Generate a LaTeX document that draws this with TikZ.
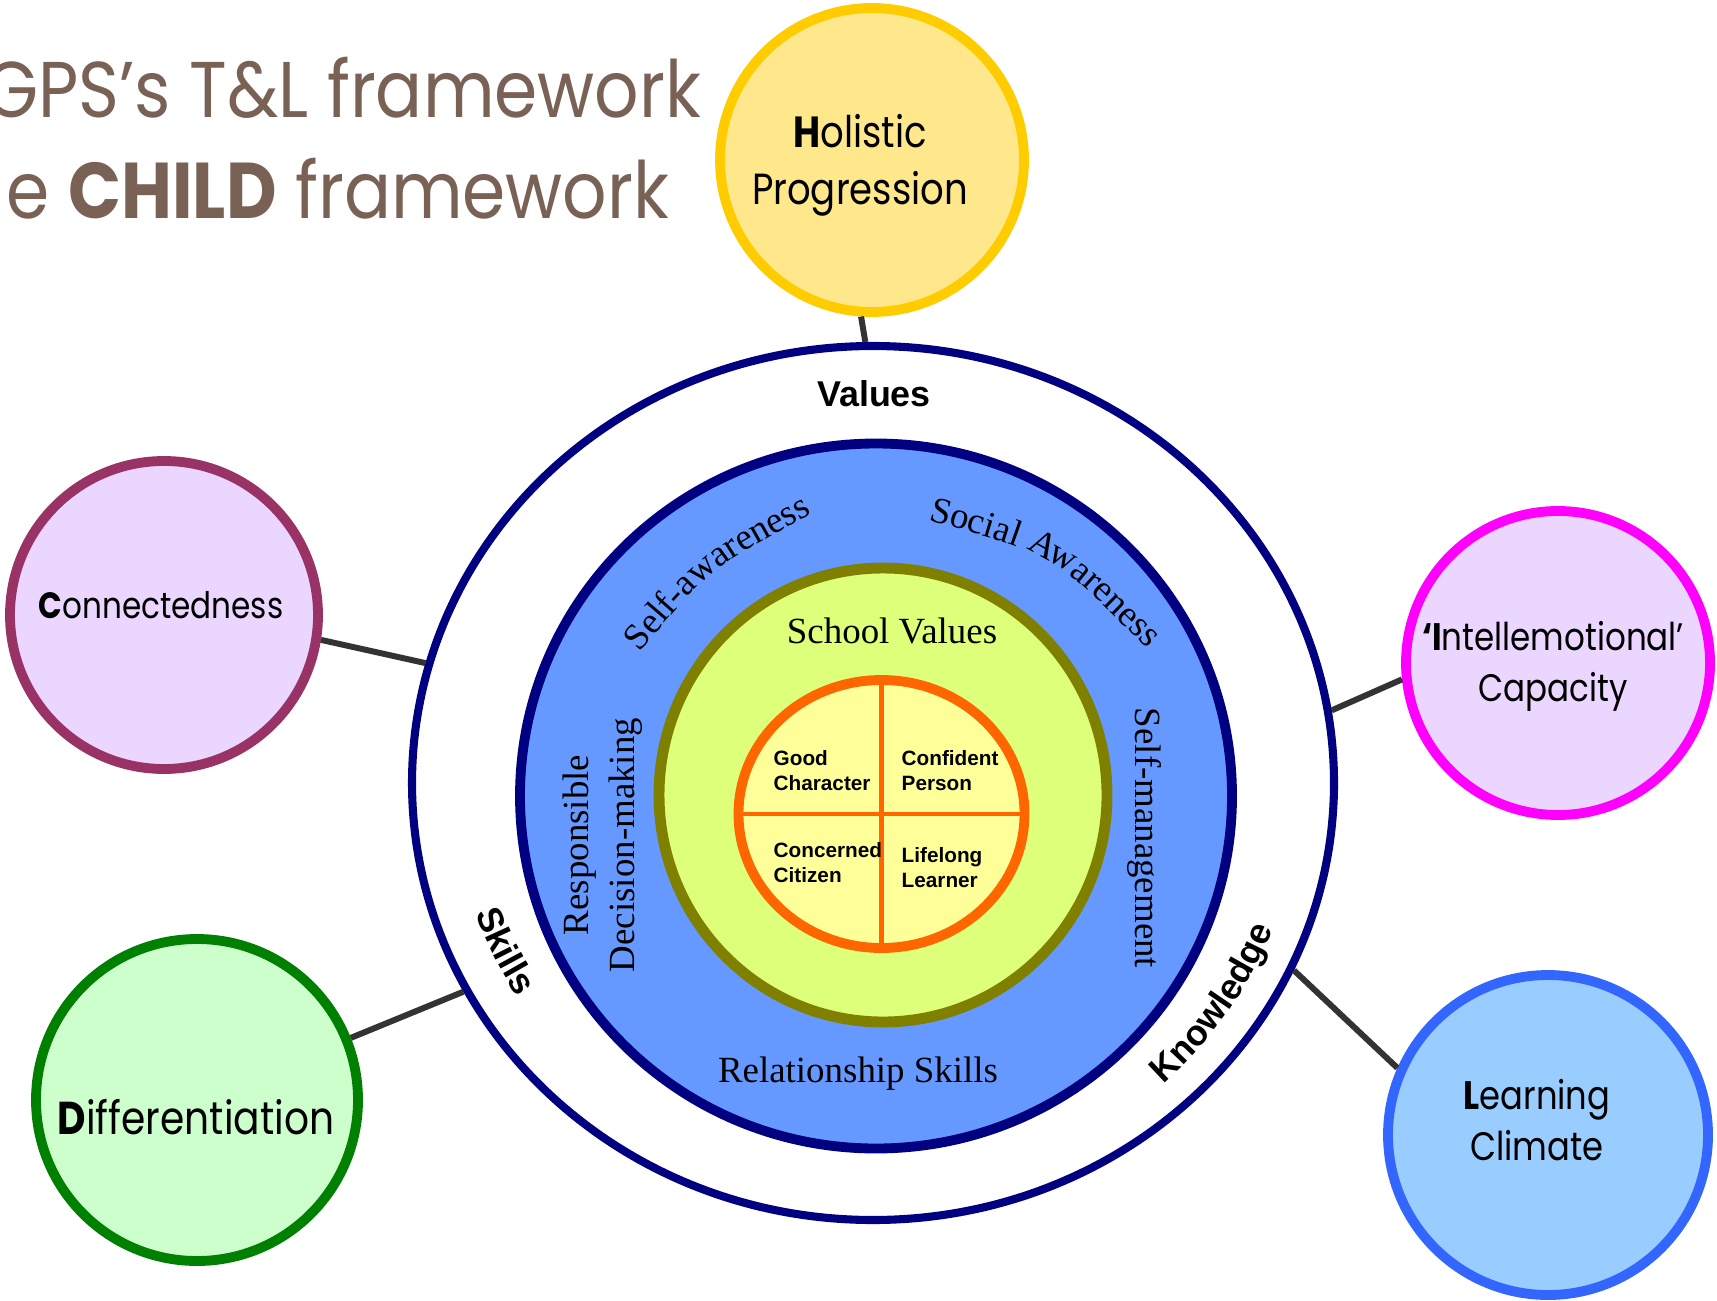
\documentclass[tikz,border=0pt]{standalone}
\usepackage{fontspec}
\setmainfont{Liberation Serif}
\newfontfamily\geofont{Poppins}[FakeStretch=0.85]
\newfontfamily\titlefont{Poppins}[FakeStretch=0.88]
\newfontfamily\arialfont{Liberation Sans}
\usetikzlibrary{shapes.geometric,decorations.text}

\definecolor{navyring}{HTML}{000080}
\definecolor{selblue}{HTML}{6699FF}
\definecolor{schoolgreen}{HTML}{DDFF7A}
\definecolor{schoolline}{HTML}{808000}
\definecolor{coreorange}{HTML}{FF6600}
\definecolor{corefill}{HTML}{FFFF99}
\definecolor{holfill}{HTML}{FFE88C}
\definecolor{holline}{HTML}{FFCC00}
\definecolor{lilac}{HTML}{EBD6FF}
\definecolor{connline}{HTML}{993366}
\definecolor{intelline}{HTML}{FF00FF}
\definecolor{difffill}{HTML}{CCFFCC}
\definecolor{diffline}{HTML}{008000}
\definecolor{learnfill}{HTML}{99CCFF}
\definecolor{learnline}{HTML}{3366FF}
\definecolor{titlebrown}{RGB}{121,97,86}
\definecolor{linkgrey}{HTML}{333333}

\newcommand\selfont{\fontsize{10.5}{13}\selectfont}
\newcommand\ringfont{\arialfont\bfseries\fontsize{10.2}{12}\selectfont}

\begin{document}
\begin{tikzpicture}[x=0.1mm,y=0.1mm,
  bubble/.style={circle,line width=2.8pt,inner sep=0pt},
  bubbletext/.style 2 args={align=center,inner sep=0pt,font=\geofont\fontsize{#1}{#2}\selectfont},
  ringshape/.style={ellipse,inner sep=0pt},
  linkline/.style={linkgrey,line width=1.7pt},
  seltext/.style={font=\selfont,inner sep=0pt},
  titletext/.style={anchor=base east,inner sep=0pt,text=titlebrown,font=\titlefont\fontsize{22.5}{27}\selectfont},
  coretext/.style={font=\arialfont\bfseries\fontsize{5.9}{7.1}\selectfont,align=left,anchor=north west,inner sep=0pt}]

\useasboundingbox (0,0) rectangle (1717,1300);

\node[titletext] (title1) at (702,1182) {GPS’s T\&L framework};
\node[titletext] (title2) at (670,1081) {e \textbf{CHILD} framework};

% rings
\node[ringshape,draw=navyring,fill=white,line width=2.3pt,minimum width=92.2mm,minimum height=87.4mm] (ring) at (873,517) {};
\node[ringshape,draw=navyring,fill=selblue,line width=2.8pt,minimum width=71.2mm,minimum height=70.5mm] (sel) at (876,504) {};
\node[ringshape,draw=schoolline,fill=schoolgreen,line width=3.1pt,minimum width=44.8mm,minimum height=45.4mm] (school) at (883,505) {};
\node[ringshape,draw=coreorange,fill=corefill,line width=2.8pt,minimum width=28.6mm,minimum height=26.8mm] (core) at (881.5,486) {};
\draw[coreorange,line width=1.4pt] (core.west) -- (core.east) (core.north) -- (core.south);

\node[coretext] (good) at (773,550) {Good\\Character};
\node[coretext] (confident) at (901,550) {Confident\\Person};
\node[coretext] (concerned) at (773,458) {Concerned\\Citizen};
\node[coretext] (lifelong) at (901,453) {Lifelong\\Learner};

\node[seltext,anchor=base] (schoolvalues) at (892,657) {School Values};
\node[seltext,anchor=base] (relationship) at (858,218) {Relationship Skills};
\node[seltext,rotate=-90] (selfman) at (1144,462) {Self-management};
\node[seltext,rotate=90,align=center] (decision) at (603,455) {Responsible\\Decision-making};
\coordinate (awarestart) at (640,648);
\coordinate (awareend) at (812,786);
\coordinate (socialstart) at (930,779);
\coordinate (socialend) at (1146,652);
\path[decorate,decoration={text along path,text={|\selfont|Self-awareness},text align=center}]
  (awarestart) .. controls (712,733) .. (awareend);
\path[decorate,decoration={text along path,text={|\selfont|Social {Aw}areness},text align=center}]
  (socialstart) .. controls (1055,745) .. (socialend);

\node[font=\ringfont,anchor=base,inner sep=0pt] (values) at (874,893) {Values};
\path[decorate,decoration={text along path,text={|\ringfont|Skills},text align=center}]
  (ring.center) ++(190:420 and 402) arc[start angle=190,end angle=221,x radius=420,y radius=402];
\path[decorate,decoration={text along path,text={|\ringfont|Knowledge},text align=center}]
  (ring.center) ++(306:428 and 410) arc[start angle=306,end angle=346,x radius=428,y radius=410];

% satellites
\node[bubble,draw=holline,fill=holfill,minimum size=30.4mm] (hol) at (872,1140) {};
\node[bubble,draw=connline,fill=lilac,minimum size=30.8mm] (conn) at (164,685) {};
\node[bubble,draw=intelline,fill=lilac,minimum size=30.4mm] (intel) at (1558,637) {};
\node[bubble,draw=diffline,fill=difffill,minimum size=32.2mm] (diff) at (197,200) {};
\node[bubble,draw=learnline,fill=learnfill,minimum size=32mm] (learn) at (1548,165) {};

\node[bubbletext={12.4}{16.2}] (holtext) at (860,1135) {\textbf{H}olistic\\Progression};
\node[bubbletext={10.4}{13}] (conntext) at (161,695) {\textbf{C}onnectedness};
\node[bubbletext={10.9}{14.5}] (inteltext) at (1553,634) {\textbf{‘I}ntellemotional’\\Capacity};
\node[bubbletext={13.1}{16}] (difftext) at (196,183) {\textbf{D}ifferentiation};
\node[bubbletext={11.3}{14.5}] (learntext) at (1537,180) {\textbf{L}earning\\Climate};

\draw[linkline] (hol.266) -- (ring.91);
\draw[linkline] (conn.-9.5) -- (ring.165);
\draw[linkline] (intel.186) -- (ring.9);
\draw[linkline] (diff.22) -- (ring.207);
\draw[linkline] (learn.156) -- (ring.-24);

\end{tikzpicture}
\end{document}
